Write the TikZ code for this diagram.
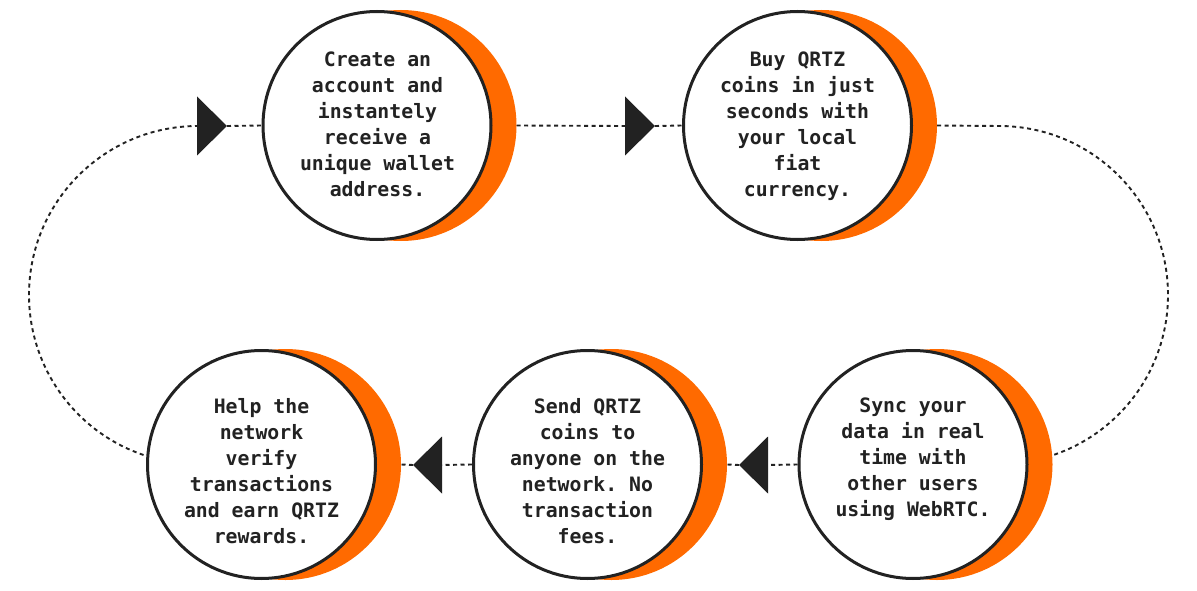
\documentclass[tikz,border=0pt]{standalone}
\usepackage{fontspec}
\newfontfamily\monob{DejaVu Sans Mono}
\definecolor{ink}{HTML}{222222}
\definecolor{orng}{HTML}{FF6A00}
\tikzset{
  halo/.style={circle, fill=orng, minimum size=231pt, inner sep=0pt},
  disc/.style={circle, draw=ink, line width=3pt, fill=white, minimum size=228pt, inner sep=0pt},
  label/.style={anchor=north, inner sep=0pt, align=center, text=ink, font=\monob\bfseries\frenchspacing\fontsize{19.8}{26}\selectfont},
  link/.style={draw=ink, line width=1.9pt, dash pattern=on 4pt off 3.5pt},
  tip/.style={fill=ink}
}
\begin{document}
\begin{tikzpicture}[x=1pt,y=1pt]
\useasboundingbox (0,0) rectangle (1197,-591);
% crescents
\node[halo] (o1) at (401,-125.5) {};
\node[halo] (o2) at (821.5,-125.5) {};
\node[halo] (o3) at (285.5,-464.5) {};
\node[halo] (o4) at (611.5,-464.5) {};
\node[halo] (o5) at (937,-464.5) {};
% circles
\node[disc] (c1) at (377,-125.5) {};
\node[disc] (c2) at (797.5,-125.5) {};
\node[disc] (c3) at (261.5,-464.5) {};
\node[disc] (c4) at (587.5,-464.5) {};
\node[disc] (c5) at (913,-464.5) {};
% texts
\node[label] (t1) at (377.5,-52) {Create an\\account and\\instantely\\receive a\\unique wallet\\address.};
\node[label] (t2) at (797.5,-52) {Buy QRTZ\\coins in just\\seconds with\\your local\\fiat\\currency.};
\node[label] (t3) at (261.5,-398) {Help the\\network\\verify\\transactions\\and earn QRTZ\\rewards.};
\node[label] (t4) at (587.5,-398) {Send QRTZ\\coins to\\anyone on the\\network. No\\transaction\\fees.};
\node[label] (t5) at (913,-398) {Sync your\\data in real\\time with\\other users\\using WebRTC.};
% arrow tips (triangles)
\coordinate (a1) at (227,-126);
\coordinate (a1b) at (197,-126);
\coordinate (a2) at (655,-126);
\coordinate (a2b) at (625,-126);
\coordinate (a3) at (739,-465);
\coordinate (a3b) at (768,-465);
\coordinate (a4) at (413,-465);
\coordinate (a4b) at (442,-465);
\coordinate (r0) at (999,-126);
\coordinate (l0) at (198,-126);
% connectors
\draw[link] (a1) -- (c1.west);
\draw[link] (o1.east) -- (a2b);
\draw[link] (a2) -- (c2.west);
\draw[link] (o2.east) -- (r0) arc[start angle=90, end angle=-72, radius=169];
\draw[link] (c5.west) -- (a3b);
\draw[link] (a3) -- (o4.east);
\draw[link] (c4.west) -- (a4b);
\draw[link] (a4) -- (o3.east);
\draw[link] (a1b) -- (l0) arc[start angle=90, end angle=252, radius=169];
% triangles
\fill[tip] (a1) -- ++(-30,29.5) -- ++(0,-59) -- cycle;
\fill[tip] (a2) -- ++(-30,29.5) -- ++(0,-59) -- cycle;
\fill[tip] (a3) -- ++(29,28.5) -- ++(0,-57) -- cycle;
\fill[tip] (a4) -- ++(29,28.5) -- ++(0,-57) -- cycle;
\end{tikzpicture}
\end{document}
